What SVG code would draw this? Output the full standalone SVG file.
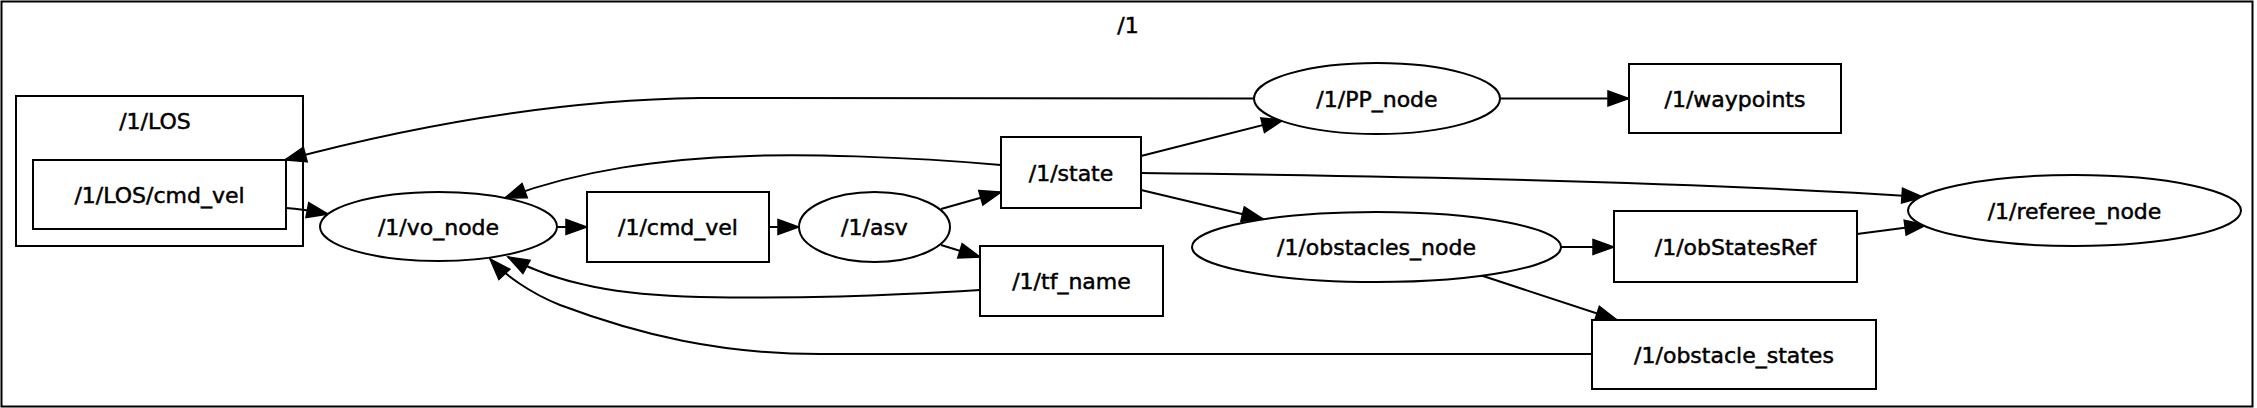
<svg xmlns="http://www.w3.org/2000/svg" width="2257" height="408" viewBox="0 0 2257 408">
<style>
  .shape { fill: #ffffff; stroke: #000000; stroke-width: 2; }
  .cluster { fill: none; stroke: #000000; stroke-width: 2; }
  .label { font-family: "DejaVu Sans", "Liberation Sans", sans-serif; font-size: 22px; fill: #000000; stroke: #000000; stroke-width: 0.5; text-anchor: middle; }
  .edge { fill: none; stroke: #000000; stroke-width: 2; marker-end: url(#arrow); }
</style>
<defs>
  <marker id="arrow" viewBox="-2 -2 25 19" refX="21" refY="7.5" markerWidth="25" markerHeight="19" markerUnits="userSpaceOnUse" orient="auto">
    <path d="M0,0 L21,7.5 L0,15 z" fill="#000000" stroke="#000000" stroke-width="1.5" stroke-linejoin="miter"/>
  </marker>
</defs>
<rect width="2257" height="408" fill="#ffffff"/>

<g id="cluster_1">
  <rect class="cluster" x="1.5" y="1.5" width="2251" height="405" stroke-width="2.5"/>
  <text class="label" x="1128" y="33">/1</text>
</g>
<g id="cluster_LOS">
  <rect class="cluster" x="16" y="96" width="287" height="150"/>
  <text class="label" x="155" y="129">/1/LOS</text>
</g>

<g id="connectors">
  <path class="edge" d="M1254,98.5 C1000,98.5 800,97 700,98 C560,100 420,124 285,160"/>
  <path class="edge" d="M286,208 C300,209 312,211 328,214"/>
  <path class="edge" d="M557,227 L587,227"/>
  <path class="edge" d="M769,227 L799,227"/>
  <path class="edge" d="M941,209 L1001,192"/>
  <path class="edge" d="M941,245 L980,257"/>
  <path class="edge" d="M1001,165 C900,156 800,154 750,156 C660,159 580,170 505,198"/>
  <path class="edge" d="M980,290 C880,296 800,299 700,297 C620,295 560,285 508,257"/>
  <path class="edge" d="M1592,354 L820,354 C720,354 640,335 560,305 C530,293 505,275 490,259"/>
  <path class="edge" d="M1141,156 L1283,120"/>
  <path class="edge" d="M1141,173 C1400,176 1700,182 1923,197"/>
  <path class="edge" d="M1141,190 L1263,219"/>
  <path class="edge" d="M1500,98.5 L1629,98.5"/>
  <path class="edge" d="M1561,247 L1614,247"/>
  <path class="edge" d="M1857,234 L1926,225"/>
  <path class="edge" d="M1480,275 L1617,320"/>
</g>

<g id="node_LOS_cmd_vel">
  <rect class="shape" x="33" y="160" width="253" height="69"/>
  <text class="label" x="159.5" y="202.5">/1/LOS/cmd_vel</text>
</g>
<g id="node_vo_node">
  <ellipse class="shape" cx="438.5" cy="226.5" rx="118.5" ry="34.5"/>
  <text class="label" x="438.5" y="234.5">/1/vo_node</text>
</g>
<g id="node_cmd_vel">
  <rect class="shape" x="587" y="192" width="182" height="70"/>
  <text class="label" x="678" y="235">/1/cmd_vel</text>
</g>
<g id="node_asv">
  <ellipse class="shape" cx="874.5" cy="227" rx="75.5" ry="35"/>
  <text class="label" x="874.5" y="235">/1/asv</text>
</g>
<g id="node_state">
  <rect class="shape" x="1001" y="137" width="140" height="71"/>
  <text class="label" x="1071" y="180.5">/1/state</text>
</g>
<g id="node_tf_name">
  <rect class="shape" x="980" y="246" width="183" height="70"/>
  <text class="label" x="1071.5" y="289">/1/tf_name</text>
</g>
<g id="node_PP_node">
  <ellipse class="shape" cx="1377" cy="98.5" rx="123" ry="35.5"/>
  <text class="label" x="1377" y="106.5">/1/PP_node</text>
</g>
<g id="node_obstacles_node">
  <ellipse class="shape" cx="1376.5" cy="247" rx="184.5" ry="35"/>
  <text class="label" x="1376.5" y="255">/1/obstacles_node</text>
</g>
<g id="node_waypoints">
  <rect class="shape" x="1629" y="64" width="212" height="69"/>
  <text class="label" x="1735" y="106.5">/1/waypoints</text>
</g>
<g id="node_obStatesRef">
  <rect class="shape" x="1614" y="211" width="243" height="71"/>
  <text class="label" x="1735.5" y="254.5">/1/obStatesRef</text>
</g>
<g id="node_referee_node">
  <ellipse class="shape" cx="2074.5" cy="210.5" rx="166.5" ry="35.5"/>
  <text class="label" x="2074.5" y="218.5">/1/referee_node</text>
</g>
<g id="node_obstacle_states">
  <rect class="shape" x="1592" y="320" width="284" height="69"/>
  <text class="label" x="1734" y="362.5">/1/obstacle_states</text>
</g>
</svg>
